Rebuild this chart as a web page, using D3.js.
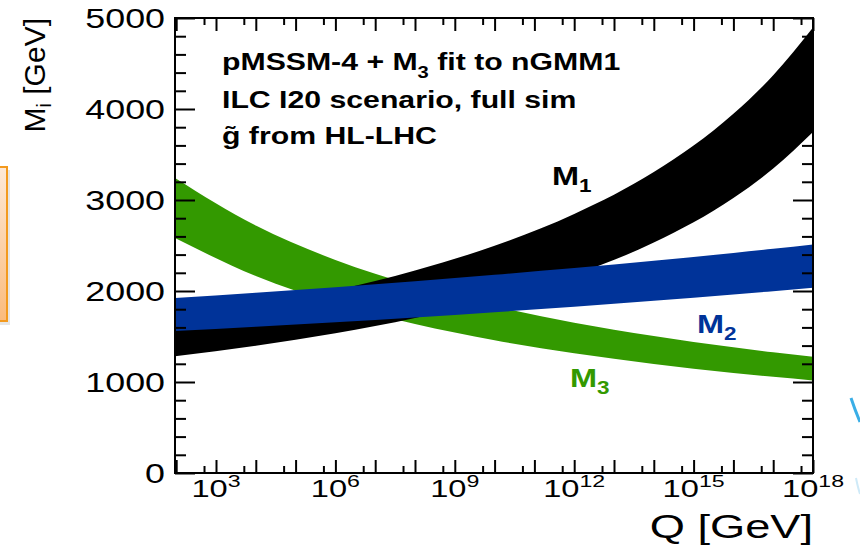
<!DOCTYPE html>
<html>
<head>
<meta charset="utf-8">
<script src="https://cdn.jsdelivr.net/npm/d3@7"></script>
<style>
  body { margin: 0; background: #fff; }
  text { font-family: "Liberation Sans", Arial, Helvetica, sans-serif; }
</style>
</head>
<body>
<div id="my_dataviz"></div>
<script>
// chart values (log10 of Q in GeV, masses in GeV)
var qExp = [1.97, 4, 6, 8, 10, 12, 14, 16, 17, 18];
var m1Hi = [1676, 1826, 2006, 2225, 2497, 2846, 3307, 3947, 4370, 4895];
var m1Lo = [1283, 1398, 1535, 1703, 1911, 2178, 2532, 3022, 3345, 3747];
var m2Hi = [1923, 1981, 2042, 2108, 2178, 2252, 2332, 2418, 2463, 2510];
var m2Lo = [1560, 1607, 1657, 1710, 1767, 1827, 1892, 1962, 1998, 2036];
var m3Hi = [3242, 2719, 2341, 2056, 1832, 1652, 1505, 1381, 1327, 1277];
var m3Lo = [2582, 2165, 1865, 1637, 1459, 1316, 1198, 1100, 1057, 1017];

var xLabelExp = [3, 6, 9, 12, 15, 18];
var yTicks = [0, 1000, 2000, 3000, 4000, 5000];
var infoLines = ["pMSSM-4 + M", "ILC I20 scenario, full sim", "g\u0303 from HL-LHC"];

// set the dimensions of the frame
var width = 860, height = 548;
var padL = 175, padR = 813, padT = 18, padB = 473;

var svg = d3.select("#my_dataviz")
          .append("svg")
          .attr("width", width)
          .attr("height", height);

var x = d3.scaleLog().domain([Math.pow(10, 1.97), 1e18]).range([padL, padR]);
var y = d3.scaleLinear().domain([0, 5000]).range([padB, padT]);

// bits of the slide around the plot
var defs = svg.append("defs");
var grad = defs.append("linearGradient").attr("id", "box").attr("x1", 0).attr("y1", 0).attr("x2", 0).attr("y2", 1);
grad.append("stop").attr("offset", "0%").attr("stop-color", "#fde9d8");
grad.append("stop").attr("offset", "100%").attr("stop-color", "#fbbb7c");
svg.append("rect").attr("x", -4).attr("y", 170).attr("width", 14).attr("height", 155).attr("fill", "#e6e6e6");
svg.append("rect").attr("x", -4).attr("y", 167).attr("width", 11).attr("height", 154)
   .attr("fill", "url(#box)").attr("stroke", "#f39a1e").attr("stroke-width", 2);
svg.append("path").attr("d", "M851,398 Q855,410 860,422").attr("fill", "none")
   .attr("stroke", "#3aaee6").attr("stroke-width", 3);
svg.append("path").attr("d", "M856,478 Q858,488 860,494").attr("fill", "none")
   .attr("stroke", "#cfeaf8").attr("stroke-width", 2);

defs.append("clipPath").attr("id", "plot")
    .append("rect").attr("x", padL).attr("y", padT).attr("width", padR - padL).attr("height", padB - padT);

// bands
var bands = [
  { lo: m3Lo, hi: m3Hi, color: "#339900" },
  { lo: m1Lo, hi: m1Hi, color: "#000000" },
  { lo: m2Lo, hi: m2Hi, color: "#003399" }
];

var area = d3.area()
    .x(function(d) { return x(Math.pow(10, d.e)); })
    .y0(function(d) { return y(d.lo); })
    .y1(function(d) { return y(d.hi); })
    .curve(d3.curveMonotoneX);

var gb = svg.append("g").attr("clip-path", "url(#plot)");
bands.forEach(function(b) {
  var rows = qExp.map(function(e, i) { return { e: e, lo: b.lo[i], hi: b.hi[i] }; });
  gb.append("path").datum(rows).attr("d", area).attr("fill", b.color);
});

// ticks on all four sides, pointing inward
var xMajor = d3.range(2, 19).map(function(e) { return Math.pow(10, e); });
var xMinor = d3.range(2, 18).map(function(e) { return 5 * Math.pow(10, e); });
var yMinor = d3.range(0, 5001, 200).filter(function(v) { return v % 1000 !== 0; });

function ticks(axis, tx, ty) {
  var g = svg.append("g").attr("transform", "translate(" + tx + "," + ty + ")").call(axis);
  g.select(".domain").remove();
  g.selectAll("line").attr("stroke", "#000").attr("stroke-width", 2);
  return g;
}
ticks(d3.axisBottom(x).tickValues(xMajor).tickSize(-13).tickFormat(""), 0, padB);
ticks(d3.axisBottom(x).tickValues(xMinor).tickSize(-7).tickFormat(""), 0, padB);
ticks(d3.axisTop(x).tickValues(xMajor).tickSize(-13).tickFormat(""), 0, padT);
ticks(d3.axisTop(x).tickValues(xMinor).tickSize(-7).tickFormat(""), 0, padT);
ticks(d3.axisLeft(y).tickValues(yTicks).tickSize(-20).tickFormat(""), padL, 0);
ticks(d3.axisLeft(y).tickValues(yMinor).tickSize(-11).tickFormat(""), padL, 0);
ticks(d3.axisRight(y).tickValues(yTicks).tickSize(-20).tickFormat(""), padR, 0);
ticks(d3.axisRight(y).tickValues(yMinor).tickSize(-11).tickFormat(""), padR, 0);

svg.append("rect").attr("x", padL).attr("y", padT).attr("width", padR - padL).attr("height", padB - padT)
   .attr("fill", "none").attr("stroke", "#000").attr("stroke-width", 2);

// text is a bit wide in the picture, so stretch it sideways
function stretched(px, py, sx) {
  return svg.append("text").attr("transform", "translate(" + px + "," + py + ") scale(" + sx + ",1)");
}

yTicks.forEach(function(v) {
  stretched(padL - 10, y(v) + 10, 1.28).attr("text-anchor", "end").attr("font-size", 28).text(v);
});

xLabelExp.forEach(function(e) {
  var t = stretched(x(Math.pow(10, e)), 497, 1.36).attr("text-anchor", "middle").attr("font-size", 24);
  t.append("tspan").text("10");
  t.append("tspan").attr("dy", -10).attr("font-size", 17).text(e);
});

stretched(padR, 538, 1.37).attr("text-anchor", "end").attr("font-size", 33).text("Q [GeV]");

var yl = svg.append("text").attr("transform", "translate(45,18) rotate(-90)")
    .attr("text-anchor", "end").attr("font-size", 30);
yl.append("tspan").text("M");
yl.append("tspan").attr("dy", 6).attr("font-size", 20).text("i");
yl.append("tspan").attr("dy", -6).text(" [GeV]");

// info box
var l1 = stretched(222, 70, 1.26).attr("font-size", 24).attr("font-weight", "bold");
l1.append("tspan").text(infoLines[0]);
l1.append("tspan").attr("dy", 8).attr("font-size", 16).text("3");
l1.append("tspan").attr("dy", -8).text(" fit to nGMM1");
stretched(222, 108, 1.26).attr("font-size", 24).attr("font-weight", "bold").text(infoLines[1]);
stretched(222, 144, 1.26).attr("font-size", 24).attr("font-weight", "bold").text(infoLines[2]);

// band names
function bandLabel(px, py, sub, color) {
  var t = stretched(px, py, 1.25).attr("font-size", 26).attr("font-weight", "bold").attr("fill", color);
  t.append("tspan").text("M");
  t.append("tspan").attr("dy", 7).attr("font-size", 18).text(sub);
}
bandLabel(552, 185, "1", "#000000");
bandLabel(697, 333, "2", "#003399");
bandLabel(570, 387, "3", "#339900");
</script>
</body>
</html>
